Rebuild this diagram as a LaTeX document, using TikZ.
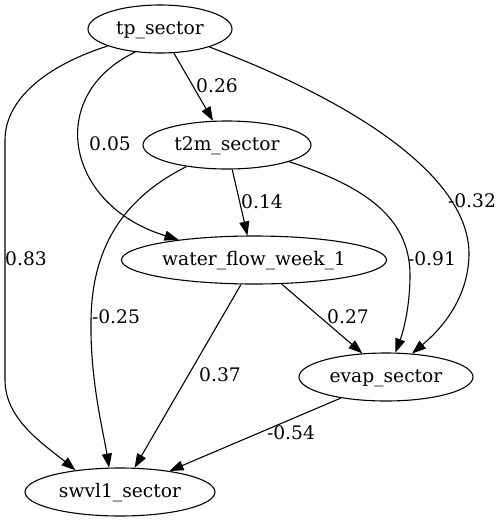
\documentclass[tikz,border=0pt]{standalone}
\usepackage{fontspec}
\setmainfont{DejaVu Serif}
\usetikzlibrary{arrows.meta,shapes.geometric}
\begin{document}
\begin{tikzpicture}[x=1pt,y=-1pt,
  vnode/.style={ellipse,draw,line width=1.1pt,inner sep=0pt,minimum height=48pt,
    text height=11pt,text depth=0pt,font=\fontsize{18.67}{22}\selectfont},
  edge/.style={draw,line width=1.1pt,-{Triangle[length=14pt,width=10pt]}},
  elabel/.style={inner sep=0pt,font=\fontsize{18.67}{22}\selectfont}]
\useasboundingbox (0,0) rectangle (503,523);
% nodes
\node[vnode,minimum width=144pt] (tp) at (160,29) {tp\_sector};
\node[vnode,minimum width=168pt] (t2m) at (227,145) {t2m\_sector};
\node[vnode,minimum width=265pt] (wf) at (254,260) {water\_flow\_week\_1};
\node[vnode,minimum width=174pt] (evap) at (386,377) {evap\_sector};
\node[vnode,minimum width=190pt] (swvl1) at (120,492) {swvl1\_sector};
% edges
\draw[edge] (tp) -- (t2m);
\draw[edge] (tp.223) .. controls (45,95) and (65,205) .. (wf.165);
\draw[edge] (tp.198) .. controls (45,66) and (5,100) .. (5,140) -- (5,380)
  .. controls (5,420) and (45,445) .. (swvl1.154);
\draw[edge] (tp.340) .. controls (350,100) and (470,175) .. (469,255)
  .. controls (468,300) and (440,330) .. (evap.42);
\draw[edge] (t2m.282) -- (wf.105);
\draw[edge] (t2m.208) .. controls (130,195) and (92,240) .. (91,320)
  .. controls (90,380) and (103,430) .. (swvl1.114);
\draw[edge] (t2m.345) .. controls (360,185) and (410,215) .. (410,275)
  .. controls (410,310) and (402,335) .. (evap.69);
\draw[edge] (wf.242) -- (swvl1.59);
\draw[edge] (wf.319) -- (evap.135);
\draw[edge] (evap.205) -- (swvl1.23);
% labels
\node[elabel] (l1) at (217,86) {0.26};
\node[elabel] (l2) at (110,144) {0.05};
\node[elabel] (l3) at (26,259) {0.83};
\node[elabel] (l4) at (472,201) {-0.32};
\node[elabel] (l5) at (262,202) {0.14};
\node[elabel] (l6) at (116,317) {-0.25};
\node[elabel] (l7) at (432,259) {-0.91};
\node[elabel] (l8) at (220,375) {0.37};
\node[elabel] (l9) at (348,317) {0.27};
\node[elabel] (l10) at (291,433) {-0.54};
\end{tikzpicture}
\end{document}
